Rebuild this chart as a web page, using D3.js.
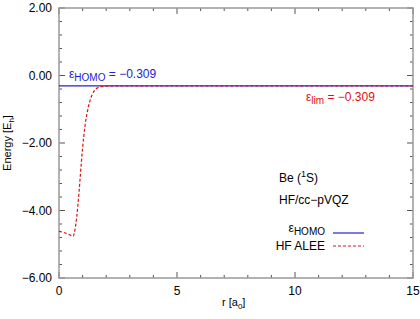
<!DOCTYPE html>
<html><head><meta charset="utf-8">
<script src="https://cdn.jsdelivr.net/npm/d3@7"></script>
<style>body{margin:0;background:#fff}svg{font-family:"Liberation Sans",Arial,sans-serif}</style>
</head><body>
<svg id="c" width="420" height="319"></svg>
<script>
const xTicks = [0, 5, 10, 15];
const yTicks = [2, 0, -2, -4, -6];
const homo = -0.309;
const aleeR = [0, 0.2, 0.4, 0.6, 0.68, 0.75, 0.8, 0.85, 0.9, 0.95, 1.0, 1.05, 1.1, 1.2, 1.3, 1.4, 1.5, 1.6, 1.7, 1.8, 2.0, 2.3, 3, 15];
const aleeE = [-4.62, -4.65, -4.70, -4.76, -4.55, -4.2, -3.85, -3.45, -3.0, -2.55, -2.15, -1.8, -1.5, -1.08, -0.78, -0.58, -0.45, -0.38, -0.345, -0.328, -0.315, -0.310, -0.309, -0.309];

const svg = d3.select("#c");
const m = {l:59, r:413, t:8, b:278};
const x = d3.scaleLinear().domain([0,15]).range([m.l, m.r]);
const y = d3.scaleLinear().domain([-6,2]).range([m.b, m.t]);

// ticks
const g = svg.append("g");
const minorX = d3.range(0, 15.01, 1);
const minorY = d3.range(-6, 2.01, 0.4);
minorX.forEach(v => {
  const major = xTicks.includes(v);
  const L = major ? 6 : 3;
  g.append("line").attr("x1", x(v)).attr("x2", x(v)).attr("y1", m.b).attr("y2", m.b - L).attr("stroke", "#555");
  g.append("line").attr("x1", x(v)).attr("x2", x(v)).attr("y1", m.t).attr("y2", m.t + L).attr("stroke", "#555");
});
minorY.forEach(v => {
  const major = Math.abs(Math.round(v) - v) < 1e-6 && Math.round(v) % 2 === 0;
  const L = major ? 6 : 3;
  g.append("line").attr("x1", m.l).attr("x2", m.l + L).attr("y1", y(v)).attr("y2", y(v)).attr("stroke", "#555");
  g.append("line").attr("x1", m.r).attr("x2", m.r - L).attr("y1", y(v)).attr("y2", y(v)).attr("stroke", "#555");
});

// tick labels
xTicks.forEach(v => g.append("text").attr("x", x(v)).attr("y", 295).attr("text-anchor", "middle").attr("font-size", 12).text(v));
yTicks.forEach(v => g.append("text").attr("x", 52).attr("y", y(v) + 4).attr("text-anchor", "end").attr("font-size", 12).text(v.toFixed(2).replace("-", "\u2212")));

// frame
svg.append("rect").attr("x", m.l).attr("y", m.t).attr("width", m.r - m.l).attr("height", m.b - m.t)
  .attr("fill", "none").attr("stroke", "#999").attr("stroke-width", 1.5);

// HOMO line
svg.append("line").attr("x1", x(0)).attr("x2", x(15)).attr("y1", y(homo)).attr("y2", y(homo))
  .attr("stroke", "#2222cc").attr("stroke-width", 1.2);

// ALEE curve
const line = d3.line().x((d,i) => x(aleeR[i])).y(d => y(d)).curve(d3.curveMonotoneX);
svg.append("path").attr("d", line(aleeE)).attr("fill", "none").attr("stroke", "#dd1111")
  .attr("stroke-width", 1.2).attr("stroke-dasharray", "3,2");

// annotations
const t1 = svg.append("text").attr("x", 69).attr("y", 78).attr("font-size", 12).attr("fill", "#2222cc");
t1.append("tspan").text("\u03b5");
t1.append("tspan").attr("dy", 3).attr("font-size", 10).text("HOMO");
t1.append("tspan").attr("dy", -3).text(" = \u22120.309");

const t2 = svg.append("text").attr("x", 306).attr("y", 101).attr("font-size", 12).attr("fill", "#dd1111");
t2.append("tspan").text("\u03b5");
t2.append("tspan").attr("dy", 3).attr("font-size", 10).text("lim");
t2.append("tspan").attr("dy", -3).text(" = \u22120.309");

const t3 = svg.append("text").attr("x", 279).attr("y", 182).attr("font-size", 12);
t3.append("tspan").text("Be (");
t3.append("tspan").attr("dy", -5).attr("font-size", 9).text("1");
t3.append("tspan").attr("dy", 5).text("S)");
svg.append("text").attr("x", 279).attr("y", 204).attr("font-size", 12).text("HF/cc\u2212pVQZ");

// legend
const t4 = svg.append("text").attr("x", 325).attr("y", 232).attr("font-size", 12).attr("text-anchor", "end");
t4.append("tspan").text("\u03b5");
t4.append("tspan").attr("dy", 3).attr("font-size", 10).text("HOMO");
svg.append("line").attr("x1", 333).attr("x2", 364).attr("y1", 233).attr("y2", 233).attr("stroke", "#2222cc").attr("stroke-width", 1.2);
svg.append("text").attr("x", 325).attr("y", 250).attr("font-size", 12).attr("text-anchor", "end").text("HF ALEE");
svg.append("line").attr("x1", 333).attr("x2", 364).attr("y1", 246).attr("y2", 246).attr("stroke", "#dd1111").attr("stroke-width", 1.2).attr("stroke-dasharray", "3,2");

// axis titles
const xt = svg.append("text").attr("x", 222).attr("y", 306).attr("font-size", 11);
xt.append("tspan").text("r  [a");
xt.append("tspan").attr("dy", 3).attr("font-size", 8).text("0");
xt.append("tspan").attr("dy", -3).text("]");

const yt = svg.append("text").attr("transform", "translate(11,143) rotate(-90)").attr("font-size", 11).attr("text-anchor", "middle");
yt.append("tspan").text("Energy [E");
yt.append("tspan").attr("dy", 3).attr("font-size", 8).text("h");
yt.append("tspan").attr("dy", -3).text("]");
</script>
</body></html>
